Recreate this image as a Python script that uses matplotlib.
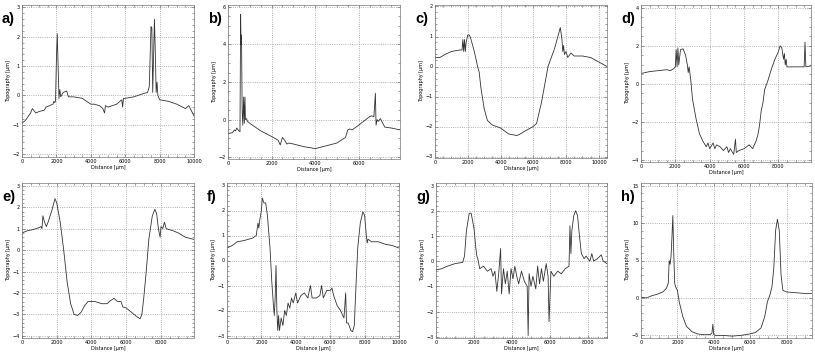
import numpy as np
import matplotlib.pyplot as plt

# panel a
a_x = [0, 200, 500, 600, 800, 1000, 1300, 1400, 1600, 1800, 1850, 1900, 1950, 2000, 2050, 2100, 2150, 2200, 2250, 2400,
       2600, 2700, 3000, 3500, 4000, 4200, 4500, 4700, 4800, 4850, 5000, 5500, 5800, 5850, 5900, 6000, 6500, 7000,
       7300, 7400, 7500, 7550, 7600, 7700, 7750, 7800, 7850, 7900, 8000, 8500, 9000, 9500, 9700, 10000]
a_y = [-0.95, -0.85, -0.6, -0.45, -0.6, -0.55, -0.5, -0.4, -0.35, -0.3, -0.2, -0.25, -0.2, 1.2, 2.1, 1.0, -0.1, 0.2, -0.05, 0.1,
       0.15, -0.05, -0.05, -0.1, -0.3, -0.3, -0.35, -0.45, -0.6, -0.35, -0.4, -0.3, -0.15, -0.4, -0.1, -0.1, -0.05, 0.05,
       0.1, 0.3, 2.35, 2.3, 0.1, 2.6, 1.5, 0.1, 0.45, 0.0, -0.15, -0.2, -0.3, -0.45, -0.35, -0.7]

# panel b
b_x = [0, 200, 300, 350, 400, 500, 550, 580, 600, 620, 650, 680, 720, 750, 780, 800, 850, 900, 1000, 1500, 2000, 2300,
       2400, 2500, 2600, 2700, 2800, 3000, 3500, 3800, 4000, 4500, 5000, 5400, 5500, 5600, 5700, 6000, 6500, 6600,
       6700, 6770, 6800, 6850, 6900, 7000, 7200, 7500, 7900]
b_y = [-0.75, -0.7, -0.55, -0.6, -0.45, -0.6, -0.65, 5.6, 4.0, 4.5, 0.5, -0.3, 1.2, -0.2, 1.2, 0.0, 0.05, -0.1, -0.2, -0.6, -0.9, -1.1,
       -1.35, -0.95, -1.1, -1.3, -1.25, -1.3, -1.45, -1.5, -1.55, -1.4, -1.25, -0.95, -0.55, -0.5, -0.55, -0.3, 0.15, 0.2,
       0.15, 1.4, -0.3, 0.0, -0.1, 0.05, -0.4, -0.45, -0.55]

# panel c
c_x = [0, 300, 600, 1000, 1500, 1650, 1700, 1750, 1800, 1850, 1900, 2000, 2100, 2200, 2400, 2600, 2700, 2800, 3000, 3200,
       3500, 4000, 4500, 5000, 5200, 5500, 6000, 6200, 6500, 6700, 6900, 7100, 7300, 7500, 7650, 7700, 7750, 7800,
       7850, 7900, 8000, 8100, 8300, 8500, 9000, 9500, 10000, 10500]
c_y = [0.3, 0.3, 0.4, 0.5, 0.55, 0.55, 0.9, 0.5, 0.9, 0.5, 0.8, 1.05, 1.05, 0.9, 0.5, 0.0, -0.2, -0.7, -1.4, -1.8,
       -1.95, -2.05, -2.25, -2.3, -2.25, -2.15, -2.0, -1.9, -1.2, -0.6, 0.0, 0.3, 0.6, 1.0, 1.3, 1.1, 0.9, 0.5,
       0.7, 0.4, 0.5, 0.3, 0.45, 0.35, 0.35, 0.3, 0.15, 0.0]

# panel d
d_x = [0, 500, 1000, 1500, 1700, 1900, 2000, 2050, 2100, 2150, 2200, 2300, 2450, 2600, 2700, 2750, 2800, 2900, 3000,
       3200, 3400, 3600, 3800, 3900, 4000, 4200, 4300, 4400, 4600, 4800, 5000, 5100, 5200, 5400, 5500, 5550, 5700,
       6000, 6300, 6500, 6700, 6800, 6900, 7000, 7100, 7200, 7400, 7600, 7800, 8000, 8100, 8200, 8300, 8350, 8400,
       8450, 8500, 8800, 9000, 9500, 9550, 9600, 9900]
d_y = [0.55, 0.65, 0.7, 0.75, 0.7, 0.8, 0.9, 1.8, 0.9, 1.9, 1.0, 1.8, 1.85, 1.5, 1.0, 0.6, 0.9, 0.2, -0.8,
       -1.8, -2.6, -3.0, -3.3, -3.1, -3.4, -3.1, -3.4, -3.2, -3.3, -3.5, -3.3, -3.6, -3.4, -3.7, -2.9, -3.6, -3.5,
       -3.4, -3.2, -3.4, -3.0, -2.7, -2.2, -1.4, -1.0, -0.3, 0.2, 0.8, 1.3, 1.7, 2.0, 1.9, 1.3, 1.6, 1.0,
       1.3, 0.9, 0.9, 0.9, 0.9, 2.2, 0.9, 0.95]

# panel e
e_x = [0, 300, 600, 1000, 1100, 1150, 1200, 1300, 1400, 1500, 1700, 1900, 2000, 2200, 2400, 2600, 2800, 3000, 3200,
       3400, 3600, 3800, 4200, 4600, 4900, 5100, 5300, 5500, 5700, 5800, 6000, 6300, 6600, 6800, 6900, 7000, 7150,
       7300, 7500, 7650, 7750, 7850, 7950, 8000, 8100, 8200, 8300, 8700, 9000, 9400, 9900]
e_y = [0.8, 0.9, 0.95, 1.05, 1.1, 1.0, 1.6, 1.3, 1.1, 1.3, 1.8, 2.4, 2.2, 1.3, 0.0, -1.5, -2.5, -3.0, -3.05,
       -2.9, -2.6, -2.4, -2.4, -2.5, -2.5, -2.35, -2.25, -2.4, -2.4, -2.65, -2.7, -2.9, -3.1, -3.2, -3.0, -2.3, -1.0,
       0.5, 1.6, 1.9, 1.7, 1.0, 0.6, 1.1, 1.0, 1.3, 1.0, 0.9, 0.8, 0.6, 0.5]

# panel f
f_x = [0, 300, 600, 1000, 1500, 1700, 1800, 1850, 1900, 2000, 2050, 2150, 2250, 2350, 2500, 2600, 2700, 2750, 2800,
       2850, 2900, 2950, 3000, 3050, 3150, 3250, 3350, 3450, 3550, 3650, 3750, 3850, 4000, 4100, 4300, 4500, 4700,
       4850, 4950, 5200, 5400, 5500, 5600, 5800, 6000, 6100, 6200, 6400, 6600, 6800, 6900, 6950, 7050, 7200, 7300,
       7400, 7500, 7600, 7750, 7900, 8000, 8100, 8150, 8200, 8400, 8800, 9200, 9600, 10000]
f_y = [0.5, 0.6, 0.75, 0.8, 0.9, 1.0, 1.5, 1.3, 1.6, 2.0, 2.5, 2.3, 2.3, 1.8, 0.5, -0.8, -1.8, -2.2, -1.5,
       -0.2, -2.0, -2.8, -2.2, -2.8, -2.3, -2.6, -2.0, -2.2, -1.7, -1.9, -1.5, -1.7, -1.3, -1.7, -1.4, -1.3, -1.5,
       -1.0, -1.5, -1.5, -1.4, -1.0, -1.5, -1.2, -1.2, -1.1, -1.4, -1.8, -2.0, -2.3, -1.3, -2.5, -2.5, -2.8, -2.85,
       -2.6, -1.0, 0.5, 1.5, 1.95, 1.8, 1.0, 0.7, 0.85, 0.75, 0.75, 0.65, 0.6, 0.5]

# panel g
g_x = [0, 300, 600, 1000, 1400, 1500, 1600, 1750, 1850, 2000, 2100, 2150, 2200, 2300, 2500, 2700, 2900, 3000, 3100,
       3200, 3300, 3400, 3450, 3550, 3650, 3750, 3850, 3950, 4050, 4150, 4250, 4350, 4500, 4650, 4800, 4850, 4900,
       5000, 5100, 5250, 5350, 5450, 5550, 5650, 5800, 5900, 5950, 6050, 6200, 6400, 6600, 6800, 7000, 7050, 7100,
       7150, 7250, 7350, 7450, 7550, 7650, 7800, 7900, 8000, 8100, 8200, 8300, 8500, 8700, 8800, 9000]
g_y = [-0.35, -0.3, -0.2, -0.1, -0.05, 0.2, 1.2, 1.9, 1.9, 1.3, 0.5, 0.2, 0.1, -0.3, -0.2, -0.4, -0.3, -0.6, -0.4,
       -1.2, -0.5, 0.5, -1.3, -0.3, -0.9, -0.4, -1.3, -0.3, -0.7, -0.2, -0.6, -0.9, -0.4, -0.8, -1.0, -2.95, -0.5,
       -1.0, -0.6, -1.1, -0.2, -0.9, -0.3, -0.8, -0.1, -0.6, -2.4, -0.4, -0.6, -0.4, -0.5, -0.3, -0.2, 1.4, 0.3,
       1.2, 1.8, 2.0, 1.8, 1.0, 0.3, 0.1, 0.2, 0.1, 0.0, 0.3, 0.0, 0.1, 0.25, 0.0, -0.1]

# panel h
h_x = [0, 300, 600, 900, 1200, 1400, 1500, 1550, 1600, 1650, 1700, 1750, 1800, 1850, 1900, 2000, 2100, 2300, 2500,
       2800, 3100, 3400, 3800, 3900, 3950, 4000, 4100, 4500, 5000, 5500, 6000, 6300, 6600, 6800, 6950, 7100, 7200,
       7300, 7400, 7500, 7600, 7700, 7800, 8000, 8500, 9000, 9400]
h_y = [0.1, 0.0, 0.3, 0.5, 0.8, 1.3, 2.0, 5.0, 4.5, 5.5, 8.0, 11.0, 6.0, 2.0, 1.5, 1.0, -0.5, -2.5, -3.8,
       -4.5, -4.8, -4.9, -4.9, -4.7, -3.5, -4.9, -5.0, -5.0, -5.1, -5.0, -4.8, -4.6, -4.0, -2.5, -0.5, 0.5, 1.5,
       4.0, 9.0, 10.5, 9.0, 3.0, 1.0, 0.8, 0.7, 0.6, 0.6]

panels = [
    ('a)', a_x, a_y, (0, 10000), (-2.1, 3.08), [-2, -1, 0, 1, 2, 3]),
    ('b)', b_x, b_y, (0, 7900), (-2.1, 6.1), [-2, 0, 2, 4, 6]),
    ('c)', c_x, c_y, (0, 10500), (-3.05, 2.05), [-3, -2, -1, 0, 1, 2]),
    ('d)', d_x, d_y, (0, 9900), (-4.1, 4.15), [-4, -2, 0, 2, 4]),
    ('e)', e_x, e_y, (0, 9900), (-4.1, 3.13), [-4, -3, -2, -1, 0, 1, 2, 3]),
    ('f)', f_x, f_y, (0, 10000), (-3.1, 3.1), [-3, -2, -1, 0, 1, 2, 3]),
    ('g)', g_x, g_y, (0, 9000), (-3.05, 3.1), [-3, -2, -1, 0, 1, 2, 3]),
    ('h)', h_x, h_y, (0, 9400), (-5.35, 15.35), [-5, 0, 5, 10, 15]),
]

# axes boxes in pixels: left, right, top, bottom
boxes = [(22, 194, 5, 157), (228, 400, 5, 159), (435, 607, 5, 158), (641, 811, 5, 162),
         (22, 194, 183, 338), (227, 399, 183, 338), (436, 607, 183, 338), (641, 812, 183, 338)]

W, H = 815, 352
fig = plt.figure(figsize=(W / 100, H / 100), dpi=100)

for (lab, x, y, xl, yl, yt), (l, r, t, b) in zip(panels, boxes):
    ax = fig.add_axes([l / W, 1 - b / H, (r - l) / W, (b - t) / H])
    ax.plot(x, y, color='#333333', lw=0.6)
    ax.set_xlim(*xl)
    ax.set_ylim(*yl)
    ax.set_xticks(np.arange(0, xl[1] + 1, 2000))
    ax.set_yticks(yt)
    ax.minorticks_on()
    ax.tick_params(which='both', direction='in', top=True, right=True, width=0.4, color='#555555')
    ax.tick_params(which='major', length=2, labelsize=3.5, pad=1.5)
    ax.tick_params(which='minor', length=1.2)
    ax.grid(True, which='major', ls=':', lw=0.6, color='#999999')
    for s in ax.spines.values():
        s.set_linewidth(0.5)
        s.set_color('#777777')
    ax.set_xlabel('Distance [µm]', fontsize=3.5, labelpad=1)
    ax.set_ylabel('Topography [µm]', fontsize=3.5, labelpad=1)
    fig.text((l - 20) / W, 1 - (t + 18) / H, lab, fontsize=10.5, fontweight='bold',
             family='Liberation Sans')

fig.savefig('out.png', dpi=100)
